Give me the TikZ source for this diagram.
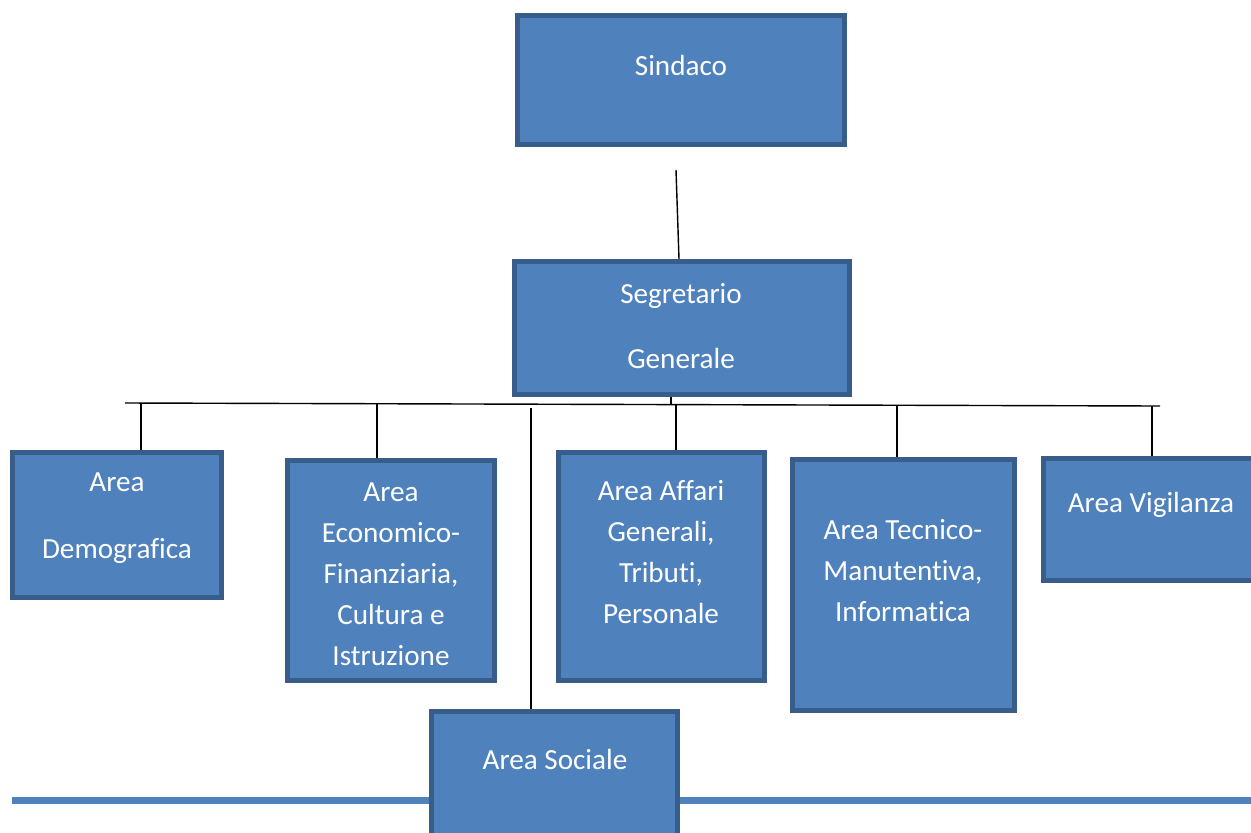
\documentclass[tikz,border=0pt]{standalone}
\usepackage{fontspec}
\setmainfont{Carlito}[Ligatures=NoCommon]
\usetikzlibrary{fit}
\definecolor{boxfill}{HTML}{4F81BD}
\definecolor{boxline}{HTML}{385D8A}

\begin{document}
\begin{tikzpicture}[x=0.02cm, y=-0.02cm,
    box/.style={draw=boxline, fill=boxfill, line width=0.1cm, inner sep=0pt},
    lbl/.style={text=white, align=center, font=\fontsize{16.6}{23.3}\selectfont},
    link/.style={line width=0.8pt}]
    \useasboundingbox (0,0) rectangle (1251,832);
    \clip (0,0) rectangle (1251,832);

    % linea blu in fondo
    \draw[boxfill, line width=0.14cm] (12,800) -- (1251,800);

    % riquadri
    \node[box, fit={(517.5,15.5) (844.5,144.5)}] (sindaco) {};
    \node[box, fit={(514.5,261.5) (849.5,394.5)}] (segr) {};
    \node[box, fit={(12.5,452.5) (221.5,597.5)}] (demo) {};
    \node[box, fit={(287.5,460.5) (494.5,680.5)}] (econ) {};
    \node[box, fit={(431.5,711.5) (677.5,860)}] (sociale) {};
    \node[box, fit={(558.5,452.5) (764.5,680.5)}] (affari) {};
    \node[box, fit={(792.5,459.5) (1014.5,710.5)}] (tecnico) {};
    \node[box, fit={(1043.5,458.5) (1280,580.5)}] (vigil) {};

    % testi
    \node[lbl] (lsind) at (681,65) {Sindaco};
    \node[lbl] (lsegr) at (681,326) {Segretario\\[14pt]Generale};
    \node[lbl] (ldemo) at (117,518) {Area\\[15pt]Demografica};
    \node[lbl] (lecon) at (391,574) {Area\\Economico-\\Finanziaria,\\Cultura e\\Istruzione};
    \node[lbl] (laff) at (661,552) {Area Affari\\Generali,\\Tributi,\\Personale};
    \node[lbl] (ltec) at (903,571) {Area Tecnico-\\Manutentiva,\\Informatica};
    \node[lbl] (lsoc) at (555,759) {Area Sociale};
    \node[lbl] (lvig) at (1151,505) {Area Vigilanza};

    % collegamenti
    \coordinate (s1) at (676,170);
    \draw[link] (s1) -- ([xshift=-0.06cm]segr.north);

    \coordinate (busL) at (125,403);
    \coordinate (busR) at (1160,406);
    \draw[link] (busL) -- (busR);

    \coordinate (t0) at (671,404);
    \draw[link] (segr.south -| t0) -- (t0);

    \coordinate (t1) at (141,403);
    \coordinate (t2) at (377,403);
    \coordinate (t3) at (531,408);
    \coordinate (t4) at (676,405);
    \coordinate (t5) at (897,405);
    \coordinate (t6) at (1152,406);
    \foreach \t/\b in {t1/demo, t2/econ, t3/sociale, t4/affari, t5/tecnico, t6/vigil}
        \draw[link] (\t) -- (\t |- \b.north);

\end{tikzpicture}
\end{document}
